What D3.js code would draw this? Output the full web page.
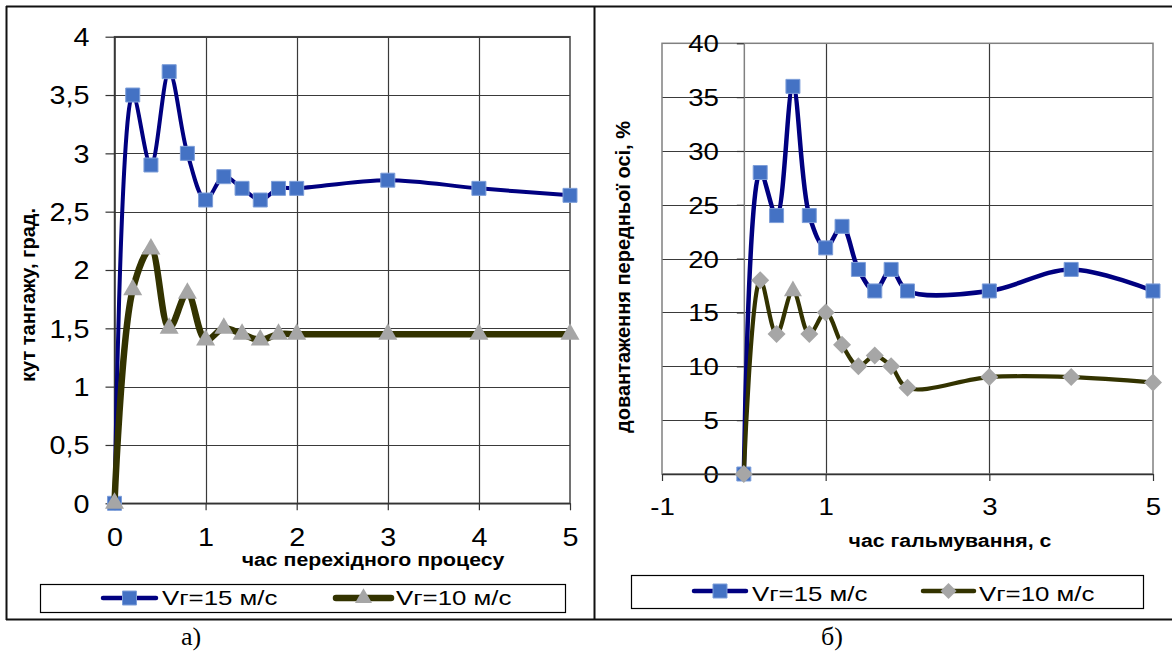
<!DOCTYPE html>
<html>
<head>
<meta charset="utf-8">
<script src="https://cdn.jsdelivr.net/npm/d3@7"></script>
<style>
  body { margin: 0; background: #fff; }
  svg text { fill: #000; }
</style>
</head>
<body>
<div id="chart"></div>
<script>
// data
const seriesNames = ["Vг=15 м/с", "Vг=10 м/с"];

// panel a) pitch angle
const leftTimes = [0, 0.2, 0.4, 0.6, 0.8, 1.0, 1.2, 1.4, 1.6, 1.8, 2, 3, 4, 5];
const leftV15 = [0, 3.5, 2.9, 3.7, 3.0, 2.6, 2.8, 2.7, 2.6, 2.7, 2.7, 2.77, 2.7, 2.64];
const leftV10 = [0, 1.83, 2.18, 1.5, 1.8, 1.4, 1.5, 1.45, 1.4, 1.45, 1.45, 1.45, 1.45, 1.45];
const leftXTicks = [0, 1, 2, 3, 4, 5];
const leftYTicks = [0, 0.5, 1, 1.5, 2, 2.5, 3, 3.5, 4];
const leftXTitle = "час перехідного процесу";
const leftYTitle = "кут тангажу, град.";

// panel б) front axle overload
const rightTimes = [0, 0.2, 0.4, 0.6, 0.8, 1.0, 1.2, 1.4, 1.6, 1.8, 2, 3, 4, 5];
const rightV15 = [0, 28, 24, 36, 24, 21, 23, 19, 17, 19, 17, 17, 19, 17];
const rightV10 = [0, 18, 13, 17, 13, 15, 12, 10, 11, 10, 8, 9, 9, 8.5];
// one odd marker in the original chart
const rightV10Markers = ["diamond", "diamond", "diamond", "triangle", "diamond", "diamond", "diamond",
  "diamond", "diamond", "diamond", "diamond", "diamond", "diamond", "diamond"];
const rightXTicks = [-1, 1, 3, 5];
const rightYTicks = [0, 5, 10, 15, 20, 25, 30, 35, 40];
const rightXTitle = "час гальмування, с";
const rightYTitle = "довантаження передньої осі, %";

const captions = ["а)", "б)"];

const FONT = "'Liberation Sans', Arial, sans-serif";
const SX = 1.15; // the source picture is a bit stretched sideways
const BLUE_LINE = "#000080", BLUE_MARK = "#4472C4", BLUE_EDGE = "#7d9ed9";
const GREEN_LINE = "#333300", GRAY_MARK = "#a6a6a6";

let svg = d3.select("#chart").append("svg").attr("width", 1172).attr("height", 652);

//table frame around both panels
let frame = svg.append("g").attr("stroke", "#111").attr("stroke-width", 2);
frame.append("line").attr("x1", 6).attr("x2", 1172).attr("y1", 6.5).attr("y2", 6.5);
frame.append("line").attr("x1", 6).attr("x2", 1172).attr("y1", 619.5).attr("y2", 619.5);
frame.append("line").attr("x1", 6.5).attr("x2", 6.5).attr("y1", 6).attr("y2", 620);
frame.append("line").attr("x1", 594.5).attr("x2", 594.5).attr("y1", 6).attr("y2", 620);

function marker(shape, size) {
  if (shape === "square") return d3.symbol(d3.symbolSquare, size * size)();
  if (shape === "triangle") return d3.symbol(d3.symbolTriangle, 0.433 * size * size)();
  // diamond = square turned 45 deg
  let h = size / 2;
  return `M0,${-h}L${h},0L0,${h}L${-h},0Z`;
}

function markStyle(sel, shape) {
  if (shape === "square") sel.attr("fill", BLUE_MARK).attr("stroke", BLUE_EDGE).attr("stroke-width", 1);
  else sel.attr("fill", GRAY_MARK).attr("stroke", "none");
}

function stretchedText(g, x, y, str, size, weight, anchor, sx) {
  return g.append("text")
    .attr("transform", `translate(${x},${y}) scale(${sx || SX},1)`)
    .attr("text-anchor", anchor || "middle")
    .attr("font-family", FONT)
    .attr("font-size", size)
    .attr("font-weight", weight || "normal")
    .text(str);
}

function fmt(d) {
  return String(d).replace(".", ",");
}

function drawPanel(p) {
  let g = svg.append("g");
  let x = d3.scaleLinear().domain(p.xDomain).range(p.xRange);
  let y = d3.scaleLinear().domain(p.yDomain).range(p.yRange);
  let [x0, x1] = p.xRange, [yb, yt] = p.yRange;

  // horizontal grid
  g.append("g")
    .selectAll("line")
    .data(p.yTicks)
    .enter()
    .append("line")
    .attr("x1", x0).attr("x2", x1)
    .attr("y1", (d) => Math.round(y(d)) + 0.5).attr("y2", (d) => Math.round(y(d)) + 0.5)
    .attr("stroke", "#3a3a3a").attr("stroke-width", 1.2);

  // vertical grid, skip the plot edges
  g.append("g")
    .selectAll("line")
    .data(p.xTicks.filter((d) => d !== p.xDomain[0] && d !== p.xDomain[1]))
    .enter()
    .append("line")
    .attr("y1", yt).attr("y2", yb)
    .attr("x1", (d) => Math.round(x(d)) + 0.5).attr("x2", (d) => Math.round(x(d)) + 0.5)
    .attr("stroke", "#3a3a3a").attr("stroke-width", 1.2);

  // plot border
  g.append("rect")
    .attr("x", x0).attr("y", yt)
    .attr("width", x1 - x0).attr("height", yb - yt)
    .attr("fill", "none").attr("stroke", p.borderColor).attr("stroke-width", 1.5);

  // y axis
  let yAxis = g.append("g")
    .attr("transform", `translate(${x(p.yAxisAt)},0)`)
    .call(d3.axisLeft(y).tickValues(p.yTicks).tickSize(p.yTickLen).tickSizeOuter(0).tickFormat(fmt));
  yAxis.select(".domain").attr("stroke", p.axisColor).attr("stroke-width", 1.5);
  yAxis.selectAll(".tick line").attr("stroke", "#333").attr("stroke-width", 1.2);
  yAxis.selectAll(".tick text")
    .attr("x", 0).attr("dy", "0.35em")
    .attr("transform", `translate(${-p.yLabelGap},0) scale(${SX},1)`)
    .attr("font-family", FONT).attr("font-size", p.tickFont);

  // x axis
  let xAxis = g.append("g")
    .attr("transform", `translate(0,${y(0)})`)
    .call(d3.axisBottom(x).tickValues(p.xTicks).tickSize(7).tickSizeOuter(0).tickFormat(fmt));
  xAxis.select(".domain").attr("stroke", "#333").attr("stroke-width", 1.5);
  xAxis.selectAll(".tick line").attr("stroke", "#333").attr("stroke-width", 1.2);
  xAxis.selectAll(".tick text")
    .attr("y", 0).attr("dy", 0)
    .attr("transform", `translate(0,${p.xLabelBase}) scale(${SX},1)`)
    .attr("font-family", FONT).attr("font-size", p.tickFont);

  // axis titles
  stretchedText(g, p.xTitlePos[0], p.xTitlePos[1], p.xTitle, 18.5, "bold");
  g.append("text")
    .attr("transform", `translate(${p.yTitlePos[0]},${p.yTitlePos[1]}) rotate(-90)`)
    .attr("text-anchor", "middle")
    .attr("font-family", FONT).attr("font-size", 20).attr("font-weight", "bold")
    .text(p.yTitle);

  // series, 15 m/s first so 10 m/s sits on top
  let line = d3.line()
    .x((d) => x(d[0]))
    .y((d) => y(d[1]))
    .curve(d3.curveCatmullRom.alpha(0.5));

  p.series.forEach((s) => {
    let pts = d3.zip(p.times, s.values);
    g.append("path")
      .datum(pts)
      .attr("d", line)
      .attr("fill", "none")
      .attr("stroke", s.color)
      .attr("stroke-width", s.width)
      .attr("stroke-linejoin", "round");
    pts.forEach((d, i) => {
      let shape = s.markers[i];
      g.append("path")
        .attr("d", marker(shape, s.size))
        .attr("transform", `translate(${x(d[0])},${y(d[1])})`)
        .call(markStyle, shape);
    });
  });

  // legend
  let L = p.legend;
  g.append("rect")
    .attr("x", L.box[0] + 0.5).attr("y", L.box[1] + 0.5)
    .attr("width", L.box[2] - L.box[0]).attr("height", L.box[3] - L.box[1])
    .attr("fill", "#fff").attr("stroke", "#000").attr("stroke-width", 1.2);
  p.series.forEach((s, i) => {
    let e = L.entries[i];
    let cy = L.lineY;
    g.append("line")
      .attr("x1", e[0]).attr("x2", e[1]).attr("y1", cy).attr("y2", cy)
      .attr("stroke", s.color).attr("stroke-width", s.legendWidth)
      .attr("stroke-linecap", "round");
    g.append("path")
      .attr("d", marker(s.legendMarker, s.legendSize))
      .attr("transform", `translate(${(e[0] + e[1]) / 2},${cy})`)
      .call(markStyle, s.legendMarker);
    stretchedText(g, e[2], L.textBase, seriesNames[i], 21, "normal", "start", 1.23);
  });

  // caption under the panel
  g.append("text")
    .attr("x", p.caption[0]).attr("y", p.caption[1])
    .attr("text-anchor", "middle")
    .attr("font-family", "'Liberation Serif', 'Times New Roman', serif")
    .attr("font-size", 26)
    .text(p.caption[2]);
}

drawPanel({
  xDomain: [0, 5], xRange: [114.5, 570],
  yDomain: [0, 4], yRange: [503.3, 36.7],
  xTicks: leftXTicks, yTicks: leftYTicks,
  yAxisAt: 0, yTickLen: 9, yLabelGap: 25, tickFont: 25, xLabelBase: 43,
  borderColor: "#444", axisColor: "#333",
  xTitle: leftXTitle, xTitlePos: [373, 566],
  yTitle: leftYTitle, yTitlePos: [35, 295],
  times: leftTimes,
  series: [
    { values: leftV15, color: BLUE_LINE, width: 4, size: 14, markers: leftTimes.map(() => "square"),
      legendMarker: "square", legendSize: 14, legendWidth: 4.5 },
    { values: leftV10, color: GREEN_LINE, width: 6.5, size: 19, markers: leftTimes.map(() => "triangle"),
      legendMarker: "triangle", legendSize: 17, legendWidth: 6.5 },
  ],
  legend: { box: [40, 584, 565, 612], lineY: 598, textBase: 605,
    entries: [[103, 156, 162], [336, 391, 396]] },
  caption: [191, 645, captions[0]],
});

drawPanel({
  xDomain: [-1, 5], xRange: [662, 1153],
  yDomain: [0, 40], yRange: [474, 43.3],
  xTicks: rightXTicks, yTicks: rightYTicks,
  yAxisAt: 0, yTickLen: 7, yLabelGap: 25, tickFont: 24, xLabelBase: 41,
  borderColor: "#808080", axisColor: "#808080",
  xTitle: rightXTitle, xTitlePos: [950, 547],
  yTitle: rightYTitle, yTitlePos: [630, 277],
  times: rightTimes,
  series: [
    { values: rightV15, color: BLUE_LINE, width: 4.5, size: 14, markers: rightTimes.map(() => "square"),
      legendMarker: "square", legendSize: 14, legendWidth: 4.5 },
    { values: rightV10, color: GREEN_LINE, width: 4.2, size: 18, markers: rightV10Markers,
      legendMarker: "diamond", legendSize: 16, legendWidth: 4.5 },
  ],
  legend: { box: [631, 575, 1143, 608], lineY: 591, textBase: 601,
    entries: [[694, 746, 752], [923, 974, 979]] },
  caption: [832, 645, captions[1]],
});
</script>
</body>
</html>
